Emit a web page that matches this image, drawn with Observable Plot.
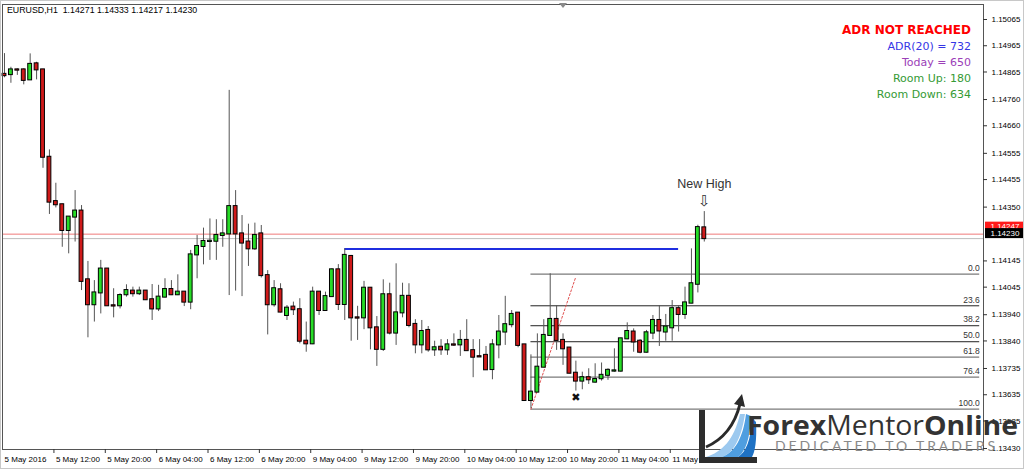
<!DOCTYPE html>
<html>
<head>
<meta charset="utf-8">
<script src="https://cdn.jsdelivr.net/npm/d3@7"></script>
<script src="https://cdn.jsdelivr.net/npm/@observablehq/plot@0.6"></script>
<style>
html, body { margin: 0; padding: 0; background: #fff; }
#wrap { position: relative; width: 1024px; height: 469px; overflow: hidden; background: #fff; font-family: "Liberation Sans", Arial, sans-serif; }
#wrap svg { display: block; }
.ov { position: absolute; white-space: pre; }
#title { left: 7px; top: 5px; font-size: 8.8px; line-height: 10px; color: #000; }
.info { right: 53px; font-size: 11px; line-height: 13px; font-family: "DejaVu Sans", sans-serif; }
#border { position: absolute; left: 0; top: 0; width: 1024px; height: 469px; box-sizing: border-box; border: 1px solid #c8c8c8; pointer-events: none; }
</style>
</head>
<body>
<div id="wrap"></div>
<script>
// ---- Data (EURUSD H1, 5 May 04:00 -> 11 May 17:00, one entry per hourly bar) ----
const open = [1.14856,1.14855,1.14873,1.14873,1.14835,1.14896,1.14873,1.14540,1.14371,1.14359,
1.14261,1.14312,1.14335,1.14073,1.13978,1.14023,1.14114,1.13974,1.13974,1.14016,
1.14030,1.14020,1.14030,1.13997,1.13962,1.14007,1.14036,1.14016,1.14026,1.13988,
1.14168,1.14200,1.14219,1.14220,1.14242,1.14248,1.14352,1.14248,1.14217,1.14191,
1.14248,1.14089,1.13978,1.14035,1.13937,1.13969,1.13959,1.13839,1.13829,1.14026,
1.13956,1.14009,1.14111,1.13979,1.14162,1.13928,1.13928,1.14041,1.13890,1.13808,
1.14016,1.13870,1.13947,1.14010,1.13903,1.13825,1.13880,1.13806,1.13816,1.13806,
1.13825,1.13825,1.13842,1.13803,1.13780,1.13785,1.13731,1.13825,1.13874,1.13902,
1.13946,1.13825,1.13613,1.13645,1.13740,1.13861,1.13922,1.13842,1.13813,1.13717,
1.13687,1.13700,1.13683,1.13696,1.13709,1.13725,1.13725,1.13848,1.13874,1.13839,
1.13797,1.13870,1.13918,1.13874,1.13890,1.13963,1.13941,1.13984,1.14056,1.14271];
const high = [1.14935,1.14883,1.14877,1.14877,1.14934,1.14902,1.14875,1.14568,1.14441,1.14361,
1.14314,1.14413,1.14356,1.14143,1.14070,1.14147,1.14116,1.14039,1.14020,1.14054,
1.14045,1.14045,1.14032,1.14055,1.14052,1.14077,1.14070,1.14092,1.14028,1.14185,
1.14242,1.14270,1.14305,1.14302,1.14302,1.14795,1.14413,1.14318,1.14285,1.14289,
1.14280,1.14108,1.14070,1.14058,1.13975,1.13988,1.14001,1.13912,1.14045,1.14028,
1.14026,1.14115,1.14131,1.14191,1.14166,1.13972,1.14067,1.14043,1.13933,1.14073,
1.14060,1.14134,1.14060,1.14058,1.13921,1.13918,1.13895,1.13839,1.13845,1.13845,
1.13867,1.13880,1.13921,1.13845,1.13845,1.13819,1.13845,1.13937,1.14010,1.13956,
1.13948,1.13826,1.13787,1.13867,1.13921,1.14096,1.13975,1.13867,1.13815,1.13763,
1.13721,1.13734,1.13753,1.13756,1.13734,1.13810,1.13850,1.13909,1.13886,1.13845,
1.13880,1.13937,1.13975,1.13941,1.13994,1.13975,1.14045,1.14191,1.14281,1.14333];
const low = [1.14843,1.14822,1.14852,1.14816,1.14835,1.14835,1.14498,1.14322,1.14347,1.14197,
1.14172,1.14217,1.14032,1.13852,1.13912,1.13943,1.13972,1.13928,1.13962,1.14007,
1.14007,1.14013,1.13994,1.13918,1.13952,1.14004,1.14013,1.14013,1.13971,1.13959,
1.14077,1.14130,1.14147,1.14147,1.14197,1.14013,1.14030,1.14009,1.14124,1.14185,
1.14080,1.13863,1.13969,1.13947,1.13918,1.13937,1.13829,1.13797,1.13826,1.13937,
1.13954,1.14007,1.13956,1.13918,1.13839,1.13842,1.13883,1.13806,1.13743,1.13800,
1.13863,1.13823,1.13928,1.13890,1.13791,1.13791,1.13797,1.13781,1.13785,1.13785,
1.13819,1.13781,1.13801,1.13700,1.13778,1.13728,1.13692,1.13772,1.13823,1.13890,
1.13814,1.13611,1.13582,1.13644,1.13738,1.13857,1.13804,1.13747,1.13715,1.13649,
1.13654,1.13674,1.13679,1.13687,1.13690,1.13721,1.13721,1.13845,1.13797,1.13791,
1.13794,1.13845,1.13819,1.13839,1.13839,1.13874,1.13922,1.13982,1.14023,1.14217];
const close = [1.14851,1.14873,1.14872,1.14833,1.14894,1.14873,1.14540,1.14369,1.14359,1.14261,
1.14312,1.14335,1.14067,1.13978,1.14023,1.14114,1.13974,1.13973,1.14013,1.14032,
1.14020,1.14030,1.13997,1.13962,1.14007,1.14036,1.14016,1.14026,1.13988,1.14168,
1.14200,1.14219,1.14220,1.14242,1.14248,1.14352,1.14248,1.14213,1.14191,1.14242,
1.14089,1.13978,1.14039,1.13950,1.13965,1.13959,1.13839,1.13829,1.14026,1.13956,
1.14009,1.14111,1.13979,1.14166,1.13928,1.13927,1.14041,1.13890,1.13808,1.14016,
1.13870,1.13947,1.14010,1.13899,1.13825,1.13876,1.13806,1.13814,1.13806,1.13825,
1.13824,1.13842,1.13803,1.13778,1.13779,1.13730,1.13825,1.13874,1.13902,1.13941,
1.13823,1.13613,1.13645,1.13740,1.13861,1.13922,1.13842,1.13810,1.13717,1.13687,
1.13700,1.13692,1.13693,1.13709,1.13728,1.13726,1.13848,1.13876,1.13836,1.13797,
1.13871,1.13918,1.13878,1.13893,1.13963,1.13941,1.13985,1.14058,1.14272,1.14230];

// time-axis tick labels (bar index of each label)
const timeTickBars = [0, 8, 16, 24, 32, 40, 48, 56, 64, 72, 80, 88, 96, 104];
const timeTickLabels = ["5 May 2016","5 May 12:00","5 May 20:00","6 May 04:00","6 May 12:00","6 May 20:00",
  "9 May 04:00","9 May 12:00","9 May 20:00","10 May 04:00","10 May 12:00","10 May 20:00","11 May 04:00","11 May 12:00"];
// price-axis tick labels
const priceTicks = [1.15065,1.14965,1.14865,1.14760,1.14660,1.14555,1.14455,1.14350,
  1.14145,1.14045,1.13940,1.13840,1.13735,1.13635,1.13535,1.13430];

// Fibonacci retracement (drawn from bar 82 low to bar 85 high)
const fibRatios = ["0.0","23.6","38.2","50.0","61.8","76.4","100.0"];
const fibPrices = [1.14095,1.13974,1.13898,1.13837,1.13778,1.13702,1.13580];
const fibBars = [82, 151.9];
const fibTrendBars = [82, 89];
const fibTrendPrices = [1.13580, 1.14085];

// horizontal lines
const blueLevel = 1.14190;
const blueBars = [53, 105];
const bidPrice = 1.14230;
const redLevel = 1.14247;

// annotations
const newHighBar = 109, newHighTextPrice = 1.14440, newHighArrowPrice = 1.14371;
const crossBar = 89, crossPrice = 1.13626;

// ---- chart ----
const bars = open.map((o, i) => ({i, o, h: high[i], l: low[i], c: close[i]}));
const up = bars.filter(d => d.c >= d.o);
const down = bars.filter(d => d.c < d.o);
const fib = fibRatios.map((r, i) => ({r, p: fibPrices[i]}));
const fibDark = fib.filter(d => ["23.6","38.2","50.0"].includes(d.r));
const fibGray = fib.filter(d => !["23.6","38.2","50.0"].includes(d.r));
const trend = fibTrendBars.map((b, i) => ({i: b, p: fibTrendPrices[i]}));
const xTicks = timeTickBars.map((b, k) => ({b, t: timeTickLabels[k]}));

const X_MIN = -0.31, X_MAX = 152.49, Y_MIN = 1.134263, Y_MAX = 1.151222;
const GREEN = "#27dc27", RED = "#cf1a1a";
const HW = 0.3;

const chart = Plot.plot({
  width: 1024, height: 469,
  marginLeft: 2, marginRight: 41, marginTop: 4, marginBottom: 20,
  x: {domain: [X_MIN, X_MAX], axis: null},
  y: {domain: [Y_MIN, Y_MAX], axis: null},
  style: {background: "transparent", fontFamily: "Liberation Sans, Arial, sans-serif", fontSize: "8px", overflow: "visible"},
  marks: [
    Plot.ruleY([bidPrice], {y: d => d, stroke: "#bcbcbc"}),
    Plot.ruleY([redLevel], {y: d => d, stroke: "#f07a7a"}),
    Plot.ruleY([blueLevel], {y: d => d, x1: () => blueBars[0], x2: () => blueBars[1], stroke: "#1f2ee0", strokeWidth: 2}),
    Plot.ruleY(fibGray, {y: "p", x1: () => fibBars[0], x2: () => fibBars[1], stroke: "#7a7a7a", strokeWidth: 1.3}),
    Plot.ruleY(fibDark, {y: "p", x1: () => fibBars[0], x2: () => fibBars[1], stroke: "#222", strokeWidth: 1}),
    Plot.text(fib, {x: () => fibBars[1], y: "p", text: "r", textAnchor: "end", dy: -6, fontSize: 8.5, fill: "#333"}),
    Plot.line(trend, {x: "i", y: "p", stroke: "#e05050", strokeDasharray: "2,2", strokeWidth: 1}),
    // candles
    Plot.ruleX(bars, {x: "i", y1: "l", y2: "h", stroke: "#555", strokeWidth: 1}),
    Plot.rect(up, {x1: d => d.i - HW, x2: d => d.i + HW, y1: "o", y2: "c", fill: GREEN, stroke: "#000", strokeWidth: 1, insetTop: -0.5, insetBottom: -0.5}),
    Plot.rect(down, {x1: d => d.i - HW, x2: d => d.i + HW, y1: "o", y2: "c", fill: RED, stroke: "#000", strokeWidth: 1, insetTop: -0.5, insetBottom: -0.5}),
    // annotations
    Plot.text([newHighBar], {x: d => d, y: () => newHighTextPrice, text: () => "New High", fontSize: 12.5, fill: "#333"}),
    Plot.text([newHighBar], {x: d => d, y: () => newHighArrowPrice, text: () => "⇩", fontSize: 15, fontFamily: "DejaVu Sans", fill: "#333"}),
    Plot.text([crossBar], {x: d => d, y: () => crossPrice, text: () => "✖", fontSize: 11, fontFamily: "DejaVu Sans", fill: "#111"}),
    // frame
    Plot.frame({stroke: "#555"}),
    // x axis
    Plot.ruleX(xTicks.slice(1), {x: d => d.b - 0.3, y1: () => Y_MIN, y2: () => Y_MIN, insetBottom: -4, stroke: "#333"}),
    Plot.text(xTicks, {x: d => d.b - 0.3, y: () => Y_MIN, text: "t", dx: 2, dy: 10, textAnchor: "start", fontSize: 8, fill: "#000"}),
    // y axis
    Plot.ruleY(priceTicks, {y: d => d, x1: () => X_MAX, x2: () => X_MAX, insetRight: -4, stroke: "#333"}),
    Plot.text(priceTicks, {x: () => X_MAX, y: d => d, text: d => d.toFixed(5), dx: 8, textAnchor: "start", fontSize: 8, fill: "#000"}),
    // price labels
    Plot.rect([redLevel], {x1: () => X_MAX, x2: () => X_MAX, y1: d => d, y2: d => d, insetLeft: 2, insetRight: -40, insetTop: -12, insetBottom: 3, fill: "#ff1a1a"}),
    Plot.text([redLevel], {x: () => X_MAX, y: d => d, text: d => d.toFixed(5), dx: 7, dy: -7.5, textAnchor: "start", fontSize: 8, fill: "#fff"}),
    Plot.rect([bidPrice], {x1: () => X_MAX, x2: () => X_MAX, y1: d => d, y2: d => d, insetLeft: 2, insetRight: -40, insetTop: -10, insetBottom: 0, fill: "#000"}),
    Plot.text([bidPrice], {x: () => X_MAX, y: d => d, text: d => d.toFixed(5), dx: 7, dy: -5, textAnchor: "start", fontSize: 8, fill: "#fff"})
  ]
});

const wrap = document.getElementById("wrap");
wrap.appendChild(chart);

function addDiv(id, cls, text, css) {
  const d = document.createElement("div");
  if (id) d.id = id;
  d.className = "ov " + (cls || "");
  d.textContent = text;
  Object.assign(d.style, css || {});
  wrap.appendChild(d);
}
addDiv("title", "", "EURUSD,H1  1.14271 1.14333 1.14217 1.14230");
addDiv(null, "info", "ADR NOT REACHED", {top: "23px", fontSize: "12px", lineHeight: "14px", fontWeight: "bold", color: "#ff0000"});
addDiv(null, "info", "ADR(20) = 732", {top: "40px", color: "#3535e6"});
addDiv(null, "info", "Today = 650", {top: "56px", color: "#9b40b8"});
addDiv(null, "info", "Room Up: 180", {top: "72px", color: "#359a35"});
addDiv(null, "info", "Room Down: 634", {top: "88px", color: "#359a35"});

// watermark logo + chart-shift marker
const ns = "http://www.w3.org/2000/svg";
const ov = document.createElementNS(ns, "svg");
ov.setAttribute("width", 1024); ov.setAttribute("height", 469);
ov.style.position = "absolute"; ov.style.left = "0"; ov.style.top = "0"; ov.style.pointerEvents = "none";
ov.innerHTML = `
  <path d="M559,3 L567,3 L563,8 Z" fill="#8a8a8a"/>
  <path d="M706,457 C722,452 734,440 740,414 L745,414 C741,440 733,453 722,457 Z" fill="#9cc9ef"/>
  <path d="M722,457 C735,452 743,438 746,414 L751,416 C750,440 745,452 738,457 Z" fill="#4f9ee0"/>
  <path d="M738,457 C746,452 751,440 752,418 L756,422 C757,440 755,452 752,457 Z" fill="#1f72c4"/>
  <path d="M706,447 C722,440 734,428 740,404" stroke="#2a2a2a" stroke-width="3" fill="none"/>
  <path d="M734,404 L742,394 L745,407 Z" fill="#2a2a2a"/>
  <rect x="699" y="410" width="6" height="53" fill="#2d2d2d"/>
  <rect x="699" y="457" width="58" height="6" fill="#2d2d2d"/>
  <text x="747" y="435" font-family="Open Sans, Lato, sans-serif" font-size="27" fill="#333" textLength="271" lengthAdjust="spacingAndGlyphs"><tspan font-weight="bold">Forex</tspan><tspan>Mentor</tspan><tspan font-weight="bold">Online</tspan></text>
  <text x="775" y="451" font-family="Lato, Open Sans, sans-serif" font-size="14" fill="#8a8a8a" textLength="220" lengthAdjust="spacing">DEDICATED TO TRADERS</text>
`;
wrap.appendChild(ov);
const b = document.createElement("div"); b.id = "border"; wrap.appendChild(b);
</script>
</body>
</html>
